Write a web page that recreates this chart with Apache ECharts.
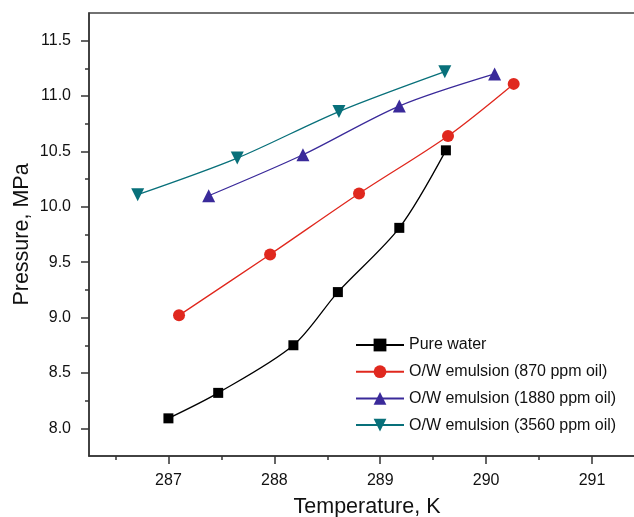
<!DOCTYPE html>
<html>
<head>
<meta charset="utf-8">
<script src="https://cdn.jsdelivr.net/npm/echarts@6/dist/echarts.min.js"></script>
<style>
  html, body { margin: 0; padding: 0; background: #fff; }
  #chart { width: 634px; height: 517px; }
</style>
</head>
<body>
<div id="chart"></div>
<script>
// data (temperature K, pressure MPa)
var waterT = [287.00, 287.47, 288.18, 288.60, 289.18, 289.62];
var waterP = [8.09, 8.32, 8.75, 9.23, 9.81, 10.51];
var oil870T = [287.10, 287.96, 288.80, 289.64, 290.26];
var oil870P = [9.02, 9.57, 10.12, 10.64, 11.11];
var oil1880T = [287.38, 288.27, 289.18, 290.08];
var oil1880P = [10.10, 10.47, 10.91, 11.20];
var oil3560T = [286.71, 287.65, 288.61, 289.61];
var oil3560P = [10.11, 10.44, 10.86, 11.22];

var seriesNames = ['Pure water', 'O/W emulsion (870 ppm oil)', 'O/W emulsion (1880 ppm oil)', 'O/W emulsion (3560 ppm oil)'];

var xTicks = [287, 288, 289, 290, 291];
var xMinor = [286.5, 287.5, 288.5, 289.5, 290.5];
var yTicks = [8.0, 8.5, 9.0, 9.5, 10.0, 10.5, 11.0, 11.5];
var yMinor = [8.25, 8.75, 9.25, 9.75, 10.25, 10.75, 11.25];

function pairs(xs, ys) {
  return xs.map(function (x, i) { return [x, ys[i]]; });
}

var font = 'Liberation Sans, Arial, sans-serif';
var axisCol = '#333';

var chart = echarts.init(document.getElementById('chart'));

function xAxisDef(ticks, len, labels) {
  return {
    type: 'value', min: 286.25, max: 291.5, position: 'bottom',
    axisLine: { show: labels, lineStyle: { color: axisCol, width: 1.5 } },
    axisTick: { show: true, inside: false, length: len, customValues: ticks, lineStyle: { color: axisCol, width: 1.5 } },
    axisLabel: { show: labels, customValues: ticks, margin: 17, fontSize: 16, color: '#111', fontFamily: font },
    splitLine: { show: false },
    name: labels ? 'Temperature, K' : '',
    nameLocation: 'middle', nameGap: 40,
    nameTextStyle: { fontSize: 21.5, color: '#111', fontFamily: font }
  };
}

function yAxisDef(ticks, len, labels) {
  return {
    type: 'value', min: 7.75, max: 11.75, position: 'left',
    axisLine: { show: labels, lineStyle: { color: axisCol, width: 1.5 } },
    axisTick: { show: true, inside: false, length: len, customValues: ticks, lineStyle: { color: axisCol, width: 1.5 } },
    axisLabel: {
      show: labels, customValues: ticks, margin: 18, fontSize: 16, color: '#111', fontFamily: font,
      formatter: function (v) { return v.toFixed(1); }
    },
    splitLine: { show: false },
    name: labels ? 'Pressure, MPa' : '',
    nameLocation: 'middle', nameGap: 56, nameMoveOverlap: false,
    nameTextStyle: { fontSize: 21.5, color: '#111', fontFamily: font }
  };
}

function lineSeries(name, data, color, symbol, size, rotate) {
  return {
    name: name, type: 'line', data: data,
    smooth: 0.3,
    symbol: symbol, symbolSize: size, symbolRotate: rotate || 0,
    showAllSymbol: true,
    lineStyle: { color: color, width: 1.3 },
    itemStyle: { color: color },
    emphasis: { disabled: true }
  };
}

chart.setOption({
  animation: false,
  backgroundColor: '#fff',
  grid: {
    left: 89, top: 13, width: 556, height: 443,
    outerBoundsMode: 'none', containLabel: false,
    show: true, borderColor: '#444', borderWidth: 1.5, backgroundColor: 'transparent'
  },
  legend: {
    orient: 'vertical', left: 355, top: 337, padding: 0,
    itemWidth: 48, itemHeight: 16, itemGap: 10.7,
    textStyle: { fontSize: 16, color: '#111', fontFamily: font },
    data: seriesNames
  },
  xAxis: [xAxisDef(xTicks, 8, true), xAxisDef(xMinor, 4, false)],
  yAxis: [yAxisDef(yTicks, 8, true), yAxisDef(yMinor, 4, false)],
  series: [
    lineSeries(seriesNames[0], pairs(waterT, waterP), '#000000', 'rect', 10),
    lineSeries(seriesNames[1], pairs(oil870T, oil870P), '#e0281e', 'circle', 12),
    lineSeries(seriesNames[2], pairs(oil1880T, oil1880P), '#3a2a9a', 'triangle', 13),
    lineSeries(seriesNames[3], pairs(oil3560T, oil3560P), '#08707a', 'triangle', 13, 180)
  ]
});
</script>
</body>
</html>
